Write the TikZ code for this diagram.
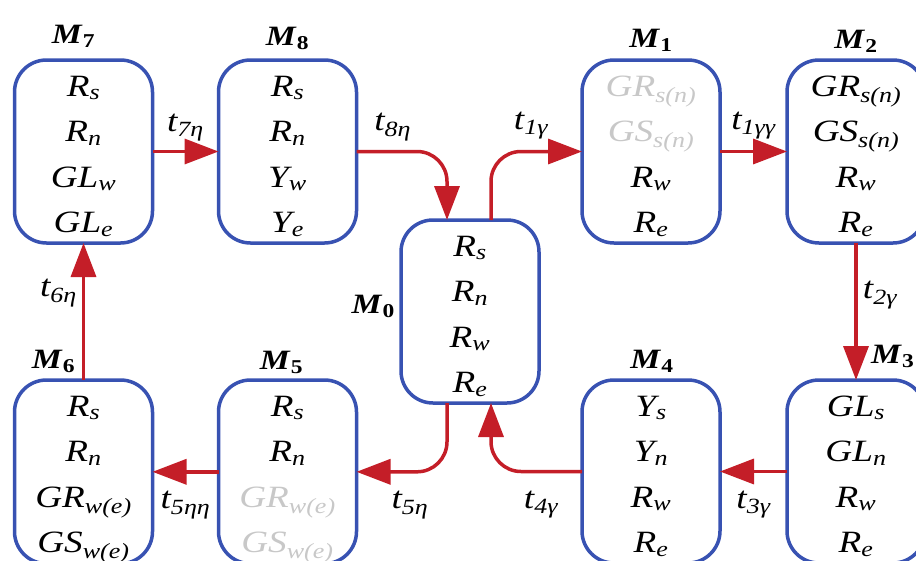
\documentclass[tikz,border=0pt]{standalone}
\usepackage{fontspec}
\setmainfont{Liberation Serif}[FakeStretch=1.2]
\usetikzlibrary{arrows.meta,positioning,calc}

\definecolor{boxblue}{RGB}{56,82,178}
\definecolor{arrred}{RGB}{196,30,40}
\definecolor{fadegray}{RGB}{200,200,200}

\newcommand{\sv}[2]{#1\textsubscript{#2}}
\newcommand{\gsv}[2]{\textcolor{fadegray}{#1\textsubscript{#2}}}
\newcommand{\trn}[1]{\textit{t}\textsubscript{#1}}
\newcommand{\mlab}[1]{\textbf{\textit{M}}\textsubscript{\textbf{#1}}}
\newcommand{\topstrut}{\rule{0pt}{36pt}}
\newcommand{\botstrut}{\rule[-10.5pt]{0pt}{10.5pt}}

\begin{document}
\begin{tikzpicture}[x=1pt, y=1pt,
  state/.style={draw=boxblue, line width=3.5pt, rounded corners=32pt, minimum width=138pt, minimum height=183pt, inner sep=0pt, outer sep=0pt, align=center, font=\fontsize{31}{45.5}\selectfont\itshape},
  mname/.style={font=\fontsize{28}{30}\selectfont, anchor=base, inner sep=0pt},
  trans/.style={draw=arrred, line width=3.5pt, -{Triangle[length=34pt,width=25pt]}},
  tlab/.style={font=\fontsize{31}{32}\selectfont\itshape, inner sep=0pt}
]

\useasboundingbox (0,0) rectangle (916,-560);
\clip (0,0) rectangle (916,-560);

% top row
\node[state] (m7) at (83.5,-151.5) {\topstrut\sv{R}{s}\\ \sv{R}{n}\\ \sv{GL}{w}\\ \sv{GL}{e}\botstrut};
\node[state, right=66pt of m7] (m8) {\topstrut\sv{R}{s}\\ \sv{R}{n}\\ \sv{Y}{w}\\ \sv{Y}{e}\botstrut};
\node[state] (m1) at (651,-151.5) {\topstrut\gsv{GR}{s(n)}\\ \gsv{GS}{s(n)}\\ \sv{R}{w}\\ \sv{R}{e}\botstrut};
\node[state, right=67pt of m1] (m2) {\topstrut\sv{GR}{s(n)}\\ \sv{GS}{s(n)}\\ \sv{R}{w}\\ \sv{R}{e}\botstrut};

% middle
\node[state] (m0) at (470,-311.5) {\topstrut\sv{R}{s}\\ \sv{R}{n}\\ \sv{R}{w}\\ \sv{R}{e}\botstrut};

% bottom row
\node[state, below=137pt of m7] (m6) {\topstrut\sv{R}{s}\\ \sv{R}{n}\\ \sv{GR}{w(e)}\\ \sv{GS}{w(e)}\botstrut};
\node[state, below=137pt of m8] (m5) {\topstrut\sv{R}{s}\\ \sv{R}{n}\\ \gsv{GR}{w(e)}\\ \gsv{GS}{w(e)}\botstrut};
\node[state, below=137pt of m1] (m4) {\topstrut\sv{Y}{s}\\ \sv{Y}{n}\\ \sv{R}{w}\\ \sv{R}{e}\botstrut};
\node[state, below=137pt of m2] (m3) {\topstrut\sv{GL}{s}\\ \sv{GL}{n}\\ \sv{R}{w}\\ \sv{R}{e}\botstrut};

% state names
\node[mname] (n7) at ($(m7.north)+(-10,17)$) {\mlab{7}};
\node[mname] (n8) at ($(m8.north)+(0,15)$) {\mlab{8}};
\node[mname] (n1) at ($(m1.north)+(0,13)$) {\mlab{1}};
\node[mname] (n2) at ($(m2.north)+(0,12)$) {\mlab{2}};
\node[mname, anchor=base east] (n0) at ($(m0.west)+(-6,-1.5)$) {\mlab{0}};
\node[mname] (n6) at ($(m6.north)+(-30,12)$) {\mlab{6}};
\node[mname] (n5) at ($(m5.north)+(-6,11)$) {\mlab{5}};
\node[mname] (n4) at ($(m4.north)+(1,12)$) {\mlab{4}};
\node[mname, anchor=base west] (n3) at ($(m3.north)+(15,17)$) {\mlab{3}};

\coordinate (m0nw) at ($(m0.north)+(-23,0)$);
\coordinate (m0ne) at ($(m0.north)+(21,0)$);
\coordinate (m0sw) at ($(m0.south)+(-23,0)$);
\coordinate (m0se) at ($(m0.south)+(21,0)$);

% transitions
\draw[trans] (m7.east) -- (m8.west) node[tlab, midway, yshift=24pt] (l7) {\trn{7η}};
\draw[trans, rounded corners=30pt] (m8.east) -| (m0nw) node[tlab, pos=.2, yshift=24pt] (l8) {\trn{8η}};
\draw[trans, rounded corners=30pt] (m0ne) |- (m1.west) node[tlab, pos=.72, yshift=26pt] (l1) {\trn{1γ}};
\draw[trans] (m1.east) -- (m2.west) node[tlab, midway, yshift=26pt] (l1b) {\trn{1γγ}};
\draw[trans] (m2.south) -- (m3.north) node[tlab, pos=.38, xshift=24pt] (l2) {\trn{2γ}};
\draw[trans] (m3.west) -- (m4.east) node[tlab, midway, yshift=-33pt] (l3) {\trn{3γ}};
\draw[trans, rounded corners=30pt] (m4.west) -| (m0se) node[tlab, pos=.225, yshift=-33pt] (l4) {\trn{4γ}};
\draw[trans, rounded corners=30pt] (m0sw) |- (m5.east) node[tlab, pos=.705, yshift=-33pt] (l5) {\trn{5η}};
\draw[trans] (m5.west) -- (m6.east) node[tlab, midway, yshift=-33pt] (l5b) {\trn{5ηη}};
\draw[trans] (m6.north) -- (m7.south) node[tlab, pos=.635, xshift=-25pt] (l6) {\trn{6η}};

\end{tikzpicture}
\end{document}
